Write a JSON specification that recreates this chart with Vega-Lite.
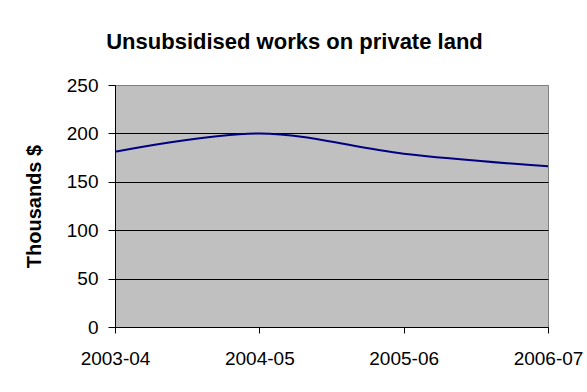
{
  "$schema": "https://vega.github.io/schema/vega-lite/v6.json",
  "width": 433,
  "height": 242,
  "autosize": {"type": "none"},
  "padding": {"left": 115, "top": 85, "right": 39, "bottom": 65},
  "background": "white",
  "title": {
    "text": "Unsubsidised works on private land",
    "font": "Liberation Sans",
    "fontSize": 22,
    "fontWeight": "bold",
    "color": "black",
    "anchor": "middle",
    "dx": -37,
    "offset": 22
  },
  "data": {
    "values": [
      {"year": "2003-04", "value": 181},
      {"year": "2004-05", "value": 200},
      {"year": "2005-06", "value": 179},
      {"year": "2006-07", "value": 166}
    ]
  },
  "mark": {"type": "line", "interpolate": "cardinal", "color": "#000080", "strokeWidth": 2},
  "encoding": {
    "x": {
      "field": "year",
      "type": "ordinal",
      "scale": {"type": "point", "padding": 0},
      "axis": {
        "title": null,
        "labelAngle": 0,
        "grid": false,
        "tickSize": 6,
        "labelPadding": 16,
        "labelFontSize": 19
      }
    },
    "y": {
      "field": "value",
      "type": "quantitative",
      "scale": {"domain": [0, 250]},
      "axis": {
        "title": "Thousands $",
        "values": [0, 50, 100, 150, 200, 250],
        "grid": true,
        "gridColor": {"condition": {"test": "datum.value == 250", "value": "#808080"}, "value": "black"},
        "gridOpacity": 1,
        "tickSize": 7,
        "labelPadding": 10,
        "labelFontSize": 19,
        "titleFontSize": 20,
        "titleFontWeight": "bold",
        "titlePadding": 22
      }
    }
  },
  "config": {
    "view": {"fill": "#C0C0C0", "stroke": "#808080", "strokeWidth": 1},
    "axis": {
      "labelFont": "Liberation Sans",
      "titleFont": "Liberation Sans",
      "labelColor": "black",
      "titleColor": "black",
      "domainColor": "black",
      "tickColor": "black",
      "domainWidth": 1,
      "tickWidth": 1,
      "gridWidth": 1
    }
  }
}
